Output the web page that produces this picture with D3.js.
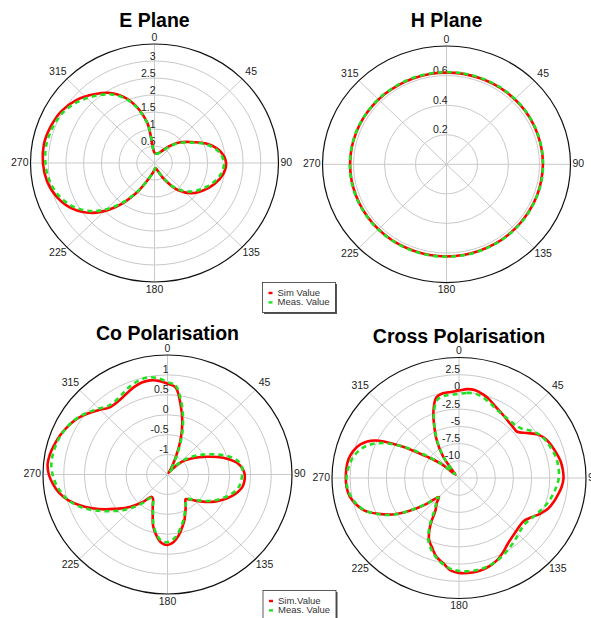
<!DOCTYPE html>
<html>
<head>
<meta charset="utf-8">
<script src="https://cdn.jsdelivr.net/npm/d3@7/dist/d3.min.js"></script>
<style>
  html, body { margin: 0; padding: 0; background: #fff; }
  svg { display: block; font-family: "Liberation Sans", Arial, sans-serif; }
</style>
</head>
<body>
<svg id="chart" width="591" height="618"></svg>
<script>
// ---- Data -----------------------------------------------------------
const angleTicks = [0, 45, 90, 135, 180, 225, 270, 315];

// E plane, sampled every 10 degrees
const eAngles = d3.range(0, 360, 10);
const eSim = [0.30, 0.28, 0.31, 0.40, 0.65, 0.95, 1.23, 1.62, 1.90, 2.02, 1.96, 1.80,
              1.60, 1.38, 1.05, 0.56, 0.22, 0.15, 0.20, 0.30, 0.50, 1.00, 1.68, 2.28,
              2.68, 2.93, 3.08, 3.15, 3.17, 3.12, 3.04, 2.88, 2.64, 2.37, 1.92, 1.22];
const eMeas = [0.30, 0.28, 0.30, 0.38, 0.60, 0.92, 1.20, 1.58, 1.85, 1.96, 1.90, 1.74,
               1.53, 1.31, 1.00, 0.54, 0.22, 0.15, 0.20, 0.30, 0.50, 0.98, 1.62, 2.20,
               2.60, 2.86, 3.01, 3.08, 3.10, 3.06, 2.98, 2.81, 2.58, 2.32, 1.89, 1.20];
const eTicks = [0.5, 1, 1.5, 2, 2.5, 3];

// H plane, sampled every 10 degrees
const hAngles = d3.range(0, 360, 10);
const hSim = [0.620, 0.621, 0.621, 0.622, 0.622, 0.623, 0.623, 0.622, 0.622, 0.622, 0.621, 0.621,
              0.620, 0.620, 0.621, 0.622, 0.622, 0.623, 0.623, 0.623, 0.622, 0.622, 0.621, 0.621,
              0.621, 0.621, 0.622, 0.622, 0.622, 0.621, 0.621, 0.620, 0.620, 0.619, 0.619, 0.620];
const hMeas = [0.623, 0.624, 0.624, 0.625, 0.625, 0.625, 0.624, 0.624, 0.623, 0.623, 0.623, 0.622,
               0.622, 0.623, 0.623, 0.624, 0.624, 0.625, 0.625, 0.625, 0.624, 0.624, 0.623, 0.623,
               0.623, 0.624, 0.624, 0.624, 0.623, 0.623, 0.622, 0.622, 0.622, 0.622, 0.623, 0.623];
const hTicks = [0.2, 0.4, 0.6];

// Co polarisation, sampled every 5 degrees
const coAngles = d3.range(0, 360, 5);
const coSim = [0.78, 0.70, 0.30, -0.12, -0.58, -1.05, -1.35, -1.45, -1.32, -1.12, -0.95, -0.80,
               -0.63, -0.45, -0.22, 0.01, 0.20, 0.31, 0.36, 0.36, 0.33, 0.24, 0.12, -0.01,
               -0.15, -0.30, -0.45, -0.58, -0.68, -0.74, -0.62, -0.48, -0.30, -0.13, 0.05, 0.20,
               0.27, 0.22, 0.05, -0.16, -0.46, -0.66, -0.80, -0.82, -0.62, -0.42, -0.20, 0.00,
               0.25, 0.50, 0.75, 0.98, 1.15, 1.27, 1.36, 1.40, 1.38, 1.33, 1.28, 1.21,
               1.14, 1.04, 0.92, 0.80, 0.69, 0.68, 0.71, 0.77, 0.84, 0.89, 0.90, 0.86];
const coMeas = [0.82, 0.74, 0.38, -0.05, -0.50, -0.98, -1.30, -1.42, -1.28, -1.05, -0.86, -0.68,
                -0.50, -0.30, -0.08, 0.12, 0.26, 0.31, 0.30, 0.28, 0.25, 0.17, 0.06, -0.07,
                -0.20, -0.34, -0.48, -0.60, -0.70, -0.72, -0.62, -0.50, -0.34, -0.18, -0.01, 0.13,
                0.20, 0.17, 0.02, -0.20, -0.48, -0.68, -0.80, -0.78, -0.56, -0.34, -0.10, 0.10,
                0.34, 0.58, 0.80, 0.98, 1.10, 1.20, 1.27, 1.31, 1.31, 1.29, 1.26, 1.21,
                1.15, 1.06, 0.95, 0.84, 0.74, 0.73, 0.77, 0.85, 0.92, 0.97, 0.98, 0.92];
const coTicks = [-1, -0.5, 0, 0.5, 1];

// Cross polarisation, sampled every 5 degrees
const crAngles = d3.range(0, 360, 5);
const crSim = [0.20, 0.45, 0.45, 0.10, -0.35, -0.90, -1.30, -1.60, -1.85, -2.00, -2.05, -1.10,
               0.10, 0.75, 1.10, 1.40, 1.70, 1.85, 1.90, 1.72, 1.35, 1.00, 0.55, -0.20,
               -1.05, -1.60, -1.62, -1.45, -1.20, -0.80, -0.20, 0.40, 0.85, 1.15, 1.33, 1.36,
               1.28, 0.95, 0.05, -0.60, -1.70, -2.70, -4.60, -6.90, -7.70, -8.60, -6.60, -4.20,
               -1.90, -0.20, 1.35, 2.20, 2.80, 3.05, 3.10, 3.08, 2.98, 2.60, 1.90, 0.40,
               -3.10, -7.10, -9.30, -11.8, -11.3, -8.70, -6.50, -4.50, -2.20, -0.40, 0.00, 0.05];
const crMeas = [-0.30, -0.10, -0.05, -0.30, -0.70, -1.10, -1.40, -1.55, -1.60, -1.60, -1.30, -0.50,
                0.20, 0.60, 0.85, 1.10, 1.25, 1.30, 1.25, 1.00, 0.70, 0.35, -0.05, -0.50,
                -0.90, -1.20, -1.20, -0.95, -0.60, -0.25, 0.15, 0.50, 0.80, 1.00, 1.10, 1.10,
                1.00, 0.75, 0.20, -0.50, -1.40, -2.50, -4.40, -6.50, -7.60, -8.50, -6.80, -4.30,
                -1.80, -0.10, 1.30, 2.10, 2.65, 2.95, 3.00, 2.85, 2.55, 2.00, 1.10, -0.50,
                -3.20, -6.50, -9.30, -11.7, -11.2, -8.80, -6.70, -4.60, -2.40, -0.80, -0.40, -0.35];
const crTicks = [-10, -7.5, -5, -2.5, 0, 2.5];

const legendTop = ["Sim Value", "Meas. Value"];
const legendBottom = ["Sim.Value", "Meas. Value"];

// ---- Panels ---------------------------------------------------------
const panels = [
  { title: "E Plane", cx: 154.5, cy: 163, rx: 124, ry: 119, titleY: 27,
    domain: [0, 3.5], ticks: eTicks, angles: eAngles, sim: eSim, meas: eMeas },
  { title: "H Plane", cx: 446.5, cy: 164.3, rx: 124, ry: 118.3, titleY: 27,
    domain: [0, 0.8], ticks: hTicks, angles: hAngles, sim: hSim, meas: hMeas },
  { title: "Co Polarisation", cx: 167.5, cy: 474.5, rx: 124.5, ry: 119.5, titleY: 340,
    domain: [-1.5, 1.5], ticks: coTicks, angles: coAngles, sim: coSim, meas: coMeas },
  { title: "Cross Polarisation", cx: 459, cy: 478, rx: 127, ry: 120.5, titleY: 342.5,
    domain: [-12.5, 5], ticks: crTicks, angles: crAngles, sim: crSim, meas: crMeas }
];

const svg = d3.select("#chart");
const RED = "#ff0000", GREEN = "#22e022", GRID = "#c9c9c9";
const rad = d => d * Math.PI / 180;

panels.forEach(p => {
  const g = svg.append("g");
  const r = d3.scaleLinear().domain(p.domain).range([0, 1]).clamp(true);
  const px = (a, v) => p.cx + r(v) * p.rx * Math.sin(rad(a));
  const py = (a, v) => p.cy - r(v) * p.ry * Math.cos(rad(a));

  // title
  g.append("text")
    .attr("x", p.cx).attr("y", p.titleY)
    .attr("text-anchor", "middle")
    .attr("font-size", 19.5).attr("font-weight", "bold").attr("fill", "#000")
    .text(p.title);

  // rings
  g.selectAll(".ring").data(p.ticks).join("ellipse")
    .attr("cx", p.cx).attr("cy", p.cy)
    .attr("rx", d => r(d) * p.rx).attr("ry", d => r(d) * p.ry)
    .attr("fill", "none").attr("stroke", GRID).attr("stroke-width", 1);

  // spokes
  g.selectAll(".spoke").data(angleTicks).join("line")
    .attr("x1", p.cx).attr("y1", p.cy)
    .attr("x2", a => px(a, p.domain[1])).attr("y2", a => py(a, p.domain[1]))
    .attr("stroke", GRID).attr("stroke-width", 1);

  // outer boundary
  g.append("ellipse")
    .attr("cx", p.cx).attr("cy", p.cy).attr("rx", p.rx).attr("ry", p.ry)
    .attr("fill", "none").attr("stroke", "#111").attr("stroke-width", 1.2);

  // angle labels
  const s = Math.SQRT1_2;
  angleTicks.forEach(a => {
    let x, y, anchor = "middle";
    if (a === 0) { x = p.cx; y = p.cy - p.ry - 6; }
    else if (a === 180) { x = p.cx; y = p.cy + p.ry + 8; }
    else if (a === 90) { x = p.cx + p.rx + 2; y = p.cy; anchor = "start"; }
    else if (a === 270) { x = p.cx - p.rx - 2; y = p.cy; anchor = "end"; }
    else {
      const sx = Math.sin(rad(a)) > 0 ? 1 : -1;
      const sy = Math.cos(rad(a)) > 0 ? -1 : 1;
      x = p.cx + sx * (p.rx * s + 9);
      y = p.cy + sy * (p.ry * s + 6.5);
    }
    g.append("text")
      .attr("x", x).attr("y", y)
      .attr("text-anchor", anchor).attr("dominant-baseline", "middle")
      .attr("font-size", 10.5).attr("fill", "#222")
      .text(a);
  });

  // radial tick labels along the 0 degree spoke
  g.selectAll(".rlab").data(p.ticks).join("text")
    .attr("x", p.cx + 1)
    .attr("y", d => p.cy - r(d) * p.ry - 1.5)
    .attr("text-anchor", "end")
    .attr("font-size", 10.5).attr("fill", "#222")
    .text(d => d);

  // series
  const line = d3.line()
    .x(d => px(d[0], d[1])).y(d => py(d[0], d[1]))
    .curve(d3.curveCatmullRomClosed.alpha(0.5));

  g.append("path")
    .attr("d", line(p.angles.map((a, i) => [a, p.sim[i]])))
    .attr("fill", "none").attr("stroke", RED).attr("stroke-width", 2.6)
    .attr("stroke-linejoin", "round");

  g.append("path")
    .attr("d", line(p.angles.map((a, i) => [a, p.meas[i]])))
    .attr("fill", "none").attr("stroke", GREEN).attr("stroke-width", 2.6)
    .attr("stroke-dasharray", "5,4");
});

// ---- Legends --------------------------------------------------------
function legend(x, y, labels) {
  const g = svg.append("g").attr("transform", `translate(${x},${y})`);
  g.append("rect").attr("x", 1.5).attr("y", 1.5).attr("width", 73).attr("height", 30)
    .attr("fill", "#555");
  g.append("rect").attr("x", 0).attr("y", 0).attr("width", 73).attr("height", 30)
    .attr("fill", "#fff").attr("stroke", "#333").attr("stroke-width", 0.8);
  const cols = [RED, GREEN];
  labels.forEach((t, i) => {
    const yy = 10.5 + i * 9.4;
    g.append("rect").attr("x", 6).attr("y", yy - 1.2).attr("width", 4).attr("height", 2.4)
      .attr("fill", cols[i]);
    g.append("text").attr("x", 15).attr("y", yy)
      .attr("dominant-baseline", "middle")
      .attr("font-size", 9.5).attr("fill", "#333")
      .text(t);
  });
}
legend(262.5, 282.5, legendTop);
legend(263, 590.5, legendBottom);
</script>
</body>
</html>
